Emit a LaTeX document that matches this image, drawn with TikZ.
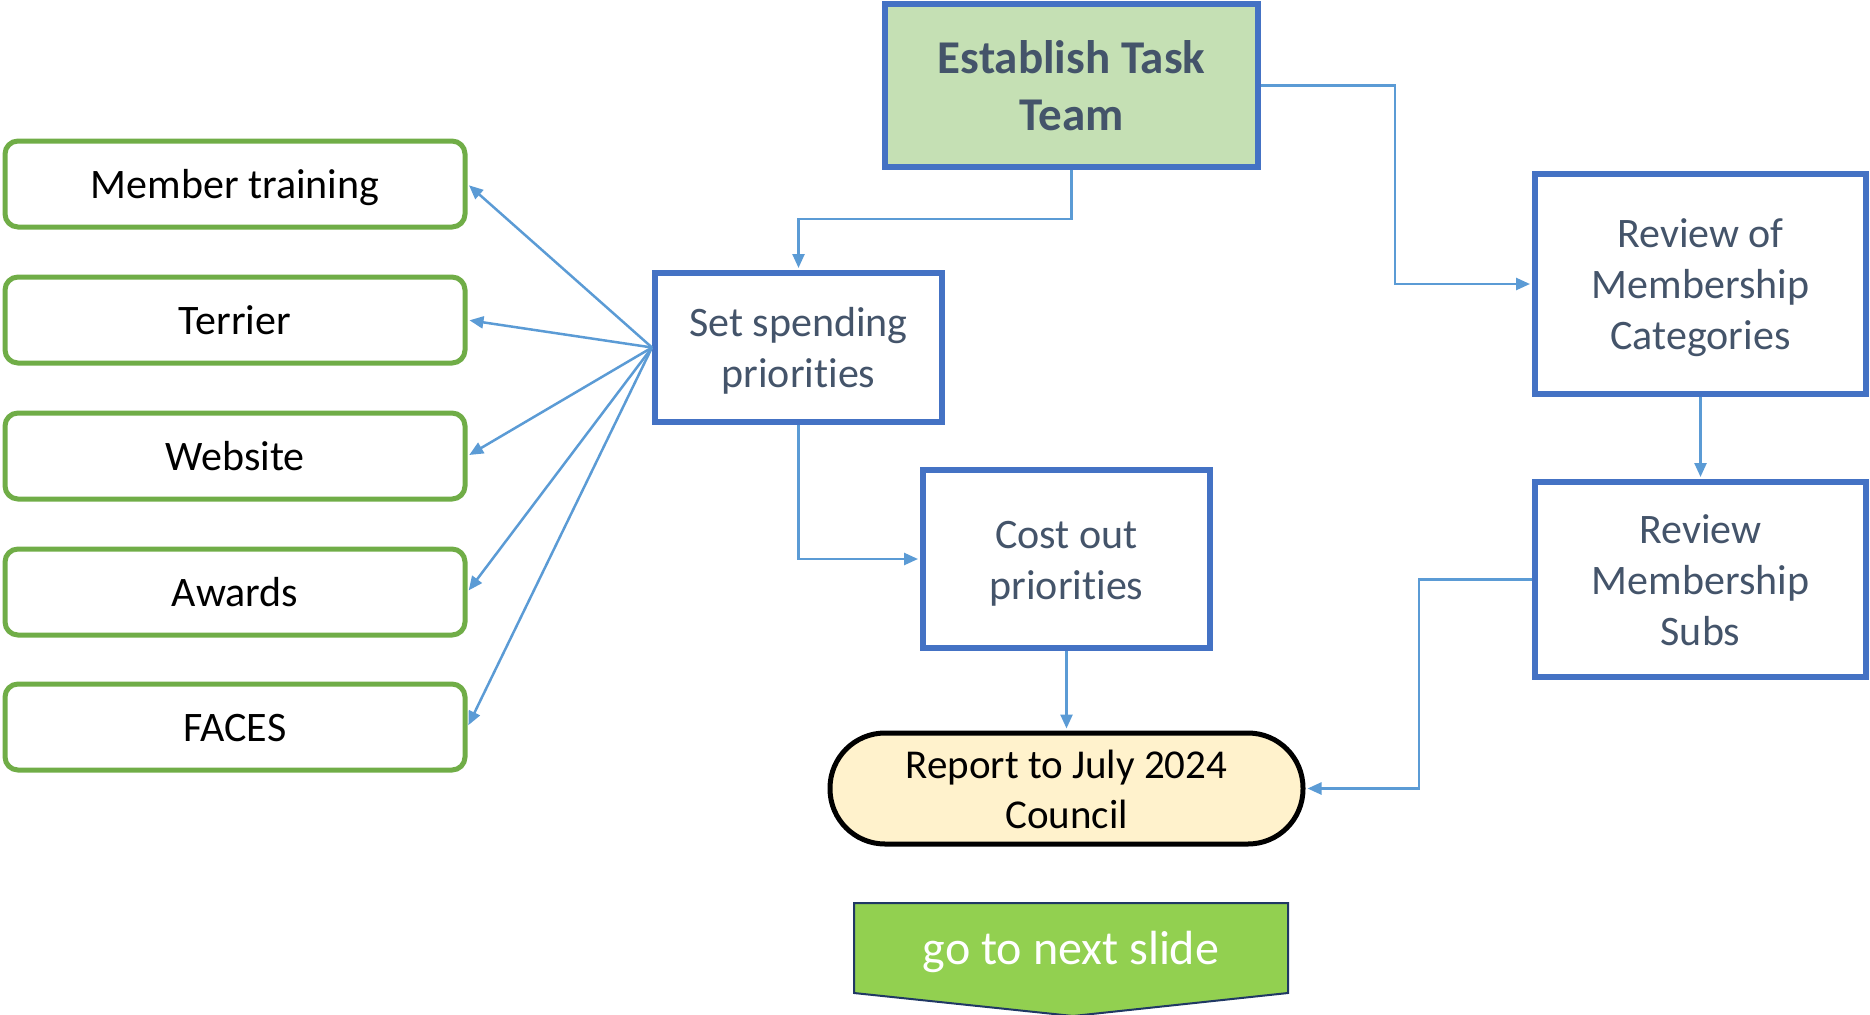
\documentclass[tikz,border=0pt]{standalone}
\usepackage{fontspec}
\setmainfont{Carlito}[RawFeature={-liga;-clig;-calt;-dlig}]
\usetikzlibrary{arrows.meta,positioning}
\definecolor{boxblue}{HTML}{4472C4}
\definecolor{linkblue}{HTML}{5B9BD5}
\definecolor{taskgreen}{HTML}{C5E0B4}
\definecolor{itemgreen}{HTML}{70AD47}
\definecolor{slate}{HTML}{44546A}
\definecolor{reportfill}{HTML}{FFF2CC}
\definecolor{slidegreen}{HTML}{92D050}
\definecolor{slideedge}{HTML}{203864}
\newcommand{\tallrule}{\rule{0pt}{38pt}}
\newcommand{\deeprule}{\rule[-9pt]{0pt}{9pt}}
\begin{document}
\begin{tikzpicture}[x=1pt,y=-1pt,
    taskbox/.style={draw=boxblue, line width=6pt, fill=white, text=slate, align=center,
        inner sep=0pt, font=\fontsize{42}{51}\selectfont},
    itembox/.style={draw=itemgreen, line width=5pt, rounded corners=13pt, minimum width=460pt,
        minimum height=86pt, inner sep=0pt, font=\fontsize{42}{51}\selectfont,
        execute at begin node=\tallrule, execute at end node=\deeprule},
    link/.style={draw=linkblue, line width=2.5pt, shorten >=2pt, -{Triangle[length=14pt,width=12pt]}}]
    \useasboundingbox (0,0) rectangle (1870,1014);

    % Main steps
    \node[draw=boxblue, line width=6pt, fill=taskgreen, text=slate, align=center, inner sep=0pt,
        minimum width=373pt, minimum height=163pt, font=\bfseries\fontsize{47}{57}\selectfont]
        (team) at (1071.5,85.5) {Establish Task\\Team};
    \node[taskbox, minimum width=287pt, minimum height=149pt] (spend) at (798.5,347.5)
        {\tallrule Set spending\\priorities\deeprule};
    \node[taskbox, minimum width=287pt, minimum height=178pt] (cost) at (1066.5,559)
        {\tallrule Cost out\\priorities\deeprule};
    \node[taskbox, minimum width=331pt, minimum height=220pt] (categories) at (1700.5,284)
        {\tallrule Review of\\Membership\\Categories\deeprule};
    \node[taskbox, minimum width=331pt, minimum height=195pt] (subs) at (1700.5,579.5)
        {\tallrule Review\\Membership\\Subs\deeprule};

    % Report
    \node[draw=black, line width=5pt, fill=reportfill, rounded corners=55pt, minimum width=473pt,
        minimum height=111pt, inner sep=0pt, align=center, font=\fontsize{41}{50}\selectfont]
        (report) at (1066.5,788.5) {\tallrule Report to July 2024\\Council\deeprule};

    % Spending items
    \foreach \name/\label/\y in {training/Member training/184, terrier/Terrier/320,
        website/Website/456, awards/Awards/592, faces/FACES/727}
        \node[itembox] (\name) at (235,\y) {\label};

    \foreach \name in {training,terrier,website,awards,faces}
        \draw[link] (spend.west) -- (\name.east);

    % Knees
    \coordinate (teamknee) at (798.5,219);
    \coordinate (catknee) at (1395,284);
    \coordinate (subsknee) at (1419,579.5);

    % Connectors
    \draw[link] (team.south) |- (teamknee) -- (spend.north);
    \draw[link] (team.east) -| (catknee) -- (categories.west);
    \draw[link] (spend.south) |- (cost.west);
    \draw[link] (cost.south) -- (report.north);
    \draw[link] (categories.south) -- (subs.north);
    \draw[link] (subs.west) -- (subsknee) |- (report.east);

    % Next slide
    \draw[fill=slidegreen, draw=slideedge, line width=2pt]
        (854,903) -- (1288,903) -- (1288,993) -- (1073,1016) -- (854,993) -- cycle;
    \node[text=white, font=\fontsize{48}{58}\selectfont] (next) at (1071,952) {go to next slide};
\end{tikzpicture}
\end{document}
